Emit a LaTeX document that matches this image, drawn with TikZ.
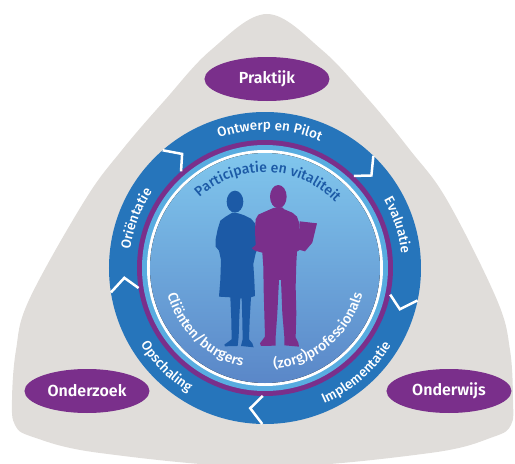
\documentclass[tikz,border=0pt]{standalone}
\usepackage{fontspec}
\setmainfont{Fira Sans}
\newfontfamily\medfont{Fira Sans Medium}
\newfontfamily\semifont{Fira Sans SemiBold}
\usetikzlibrary{decorations.text,shapes.geometric}

\definecolor{sand}{RGB}{224,221,218}
\definecolor{ringblue}{RGB}{38,117,187}
\definecolor{plum}{RGB}{122,47,139}
\definecolor{skyband}{RGB}{88,172,224}
\definecolor{disktop}{RGB}{128,198,237}
\definecolor{diskbot}{RGB}{90,135,200}
\definecolor{navy}{RGB}{28,90,166}

\newcommand{\ringfont}{\medfont\fontsize{13.5}{13.5}\selectfont}
\newcommand{\diskfont}{\medfont\fontsize{14}{14}\selectfont}

\tikzset{
  pill/.style={ellipse, fill=plum, text=white, minimum width=125pt,
    minimum height=44pt, inner sep=0pt, font=\semifont\fontsize{16}{16}\selectfont},
  chev/.style={draw=white, line width=2.5pt, line join=miter},
  ringtext/.style={decorate, decoration={text along path, text align=center,
    text color=white, text={|\ringfont|#1}}},
  disktext/.style 2 args={decorate, decoration={text along path, text align=center,
    text color=#1, text={|\diskfont|#2}}}
}

\begin{document}
\begin{tikzpicture}[x=1pt,y=1pt]
            \useasboundingbox (-265,-196) rectangle (250,268);
            % grey backdrop
            \fill[sand] plot[smooth cycle, tension=0.6] coordinates {
              (2,254) (57,218) (104,168) (145,118) (182,68) (232,-32) (245,-82)
              (248,-132) (246,-157) (228,-169) (165,-185) (0,-199) (-165,-185)
              (-232,-169) (-250,-157) (-253,-132) (-249,-82) (-236,-32)
              (-180,68) (-143,118) (-100,168) (-54,218)};
            \node[pill] at (2,189) (prak) {Praktijk};
            \node[pill] at (-178,-123) (ondz) {Onderzoek};
            \node[pill] at (184,-123) (ondw) {Onderwijs};
            % ring
            \fill[ringblue] (0,0) circle (156);
            \fill[plum] (0,0) circle (128);
            \fill[skyband] (0,0) circle (123);
            \fill[white] (0,0) circle (118);
            \fill[top color=disktop, bottom color=diskbot] (0,0) circle (115);
            \foreach \a in {131,46,-12,-91,-171}
              \draw[chev] (\a:156) -- ({\a-5}:141) -- (\a:128);
            \path[ringtext={Ontwerp en Pilot}] (148:138) arc[start angle=148, end angle=28, radius=138];
            \path[ringtext={Evaluatie}] (78:137) arc[start angle=78, end angle=-42, radius=137];
            \path[ringtext={Oriëntatie}] (219:136) arc[start angle=219, end angle=99, radius=136];
            \path[ringtext={Implementatie}] (-109:148) arc[start angle=-109, end angle=11, radius=148];
            \path[ringtext={Opschaling}] (-195:146) arc[start angle=-195, end angle=-75, radius=146];
            \path[disktext={navy}{Participatie en vitaliteit}] (178:96) arc[start angle=178, end angle=-2, radius=96];
            \path[disktext={white}{Cliënten/burgers}] (-204:101) arc[start angle=-204, end angle=-64, radius=101];
            \path[disktext={white}{(zorg)professionals}] (-120:101) arc[start angle=-120, end angle=20, radius=101];
            % the two people
            \begin{scope}[shift={(-60,88)}, x=0.3333pt, y=-0.3333pt]
              \fill[navy] (90,65) ellipse [x radius=25, y radius=33];
              \fill[navy] (82,98) -- (62,110) -- (46,122) -- (38,148) -- (32,178) -- (32,200)
                -- (42,212) -- (48,240) -- (46,300) -- (42,350) -- (76,352) -- (79,420)
                -- (80,478) -- (58,494) -- (60,499) -- (98,498) -- (101,470) -- (103,410)
                -- (106,355) -- (110,355) -- (112,420) -- (113,478) -- (108,498) -- (146,502)
                -- (142,490) -- (132,478) -- (134,420) -- (138,352) -- (150,348) -- (148,300)
                -- (145,252) -- (152,220) -- (160,200) -- (157,160) -- (150,130) -- (138,116)
                -- (118,106) -- (100,100) -- cycle;
              \fill[plum] (220,50) ellipse [x radius=25, y radius=35];
              \fill[plum] (205,84) -- (180,95) -- (160,104) -- (152,118) -- (150,150) -- (152,195)
                -- (140,205) -- (150,212) -- (172,218) -- (175,260) -- (176,330) -- (178,400)
                -- (180,470) -- (165,490) -- (168,498) -- (212,497) -- (212,470) -- (217,400)
                -- (222,300) -- (228,300) -- (232,400) -- (238,470) -- (238,496) -- (282,500)
                -- (280,488) -- (272,472) -- (274,400) -- (272,320) -- (274,250) -- (276,215)
                -- (292,205) -- (292,190) -- (282,180) -- (283,130) -- (276,110) -- (262,98)
                -- (238,88) -- (232,82) -- cycle;
              \fill[plum] (284,124) -- (336,130) -- (322,188) -- (300,214) -- (278,208) -- (282,160) -- cycle;
            \end{scope}
        \end{tikzpicture}
\end{document}
